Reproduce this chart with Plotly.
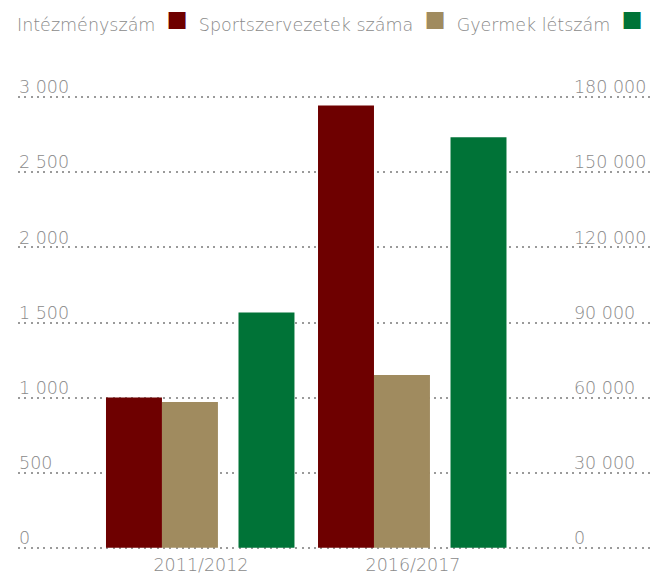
import plotly.graph_objects as go

categories = ["2011/2012", "2016/2017"]
intezmeny = [1000, 2945]
sportszervezet = [970, 1150]
gyermek = [94000, 164000]

left_ticks = [0, 500, 1000, 1500, 2000, 2500, 3000]
right_ticks = [0, 30000, 60000, 90000, 120000, 150000, 180000]

def fmt(v):
    return f"{v:,}".replace(",", " ")

C_RED = "#6e0000"
C_TAN = "#a08b5f"
C_GREEN = "#007337"
FONT = "DejaVu Sans"
FS = 17.5
WT = 200
GRAY = "#8a8a8a"
tfont = dict(family=FONT, size=FS, color=GRAY, weight=WT)

fig = go.Figure()
fig.add_trace(go.Bar(x=categories, y=intezmeny, name="Intézményszám", marker_color=C_RED,
                     marker_line_width=0, width=0.264, offset=-0.448, yaxis="y", showlegend=False))
fig.add_trace(go.Bar(x=categories, y=sportszervezet, name="Sportszervezetek száma", marker_color=C_TAN,
                     marker_line_width=0, width=0.264, offset=-0.184, yaxis="y", showlegend=False))
fig.add_trace(go.Bar(x=categories, y=gyermek, name="Gyermek létszám", marker_color=C_GREEN,
                     marker_line_width=0, width=0.264, offset=0.177, yaxis="y2", showlegend=False))

sq = "<span style='font-family:DejaVu Sans;font-size:35px;color:{}'>■</span>"
legend_text = ("Intézményszám  " + sq.format(C_RED) + "  Sportszervezetek száma  " + sq.format(C_TAN)
               + "  Gyermek létszám  " + sq.format(C_GREEN))

fig.update_layout(
    width=654, height=575,
    margin=dict(l=18, r=1, t=95, b=25),
    paper_bgcolor="white", plot_bgcolor="white",
    barmode="overlay",
    font=tfont,
    xaxis=dict(type="category", range=[-0.863, 2.132], showgrid=False, showline=False,
               zeroline=False, ticks="", ticklabelstandoff=2, automargin=False,
               tickfont=tfont),
    yaxis=dict(range=[-15, 3015], tickvals=left_ticks, ticktext=[fmt(v) for v in left_ticks],
               anchor="free", position=0, side="right", ticklabelposition="outside",
               ticks="", showline=False, zeroline=False, showgrid=True,
               gridcolor="#9a9a9a", gridwidth=2, griddash="2px,4.3px",
               ticklabelshift=-10, ticklabelstandoff=0, automargin=False,
               tickfont=tfont),
    yaxis2=dict(range=[-900, 180900], tickvals=right_ticks, ticktext=[fmt(v) for v in right_ticks],
                overlaying="y", anchor="free", position=0.874, side="right",
                ticklabelposition="outside", ticks="", showline=False, zeroline=False,
                showgrid=False, ticklabelshift=-10, ticklabelstandoff=0, automargin=False,
                tickfont=tfont),
    annotations=[dict(text=legend_text, xref="paper", yref="paper", x=-0.005, y=1.0,
                      yshift=95 - 19, xanchor="left", yanchor="middle", showarrow=False,
                      font=tfont)],
)

fig.write_html("out.html", config={"displayModeBar": False},
               post_script="document.body.style.margin='0';")
